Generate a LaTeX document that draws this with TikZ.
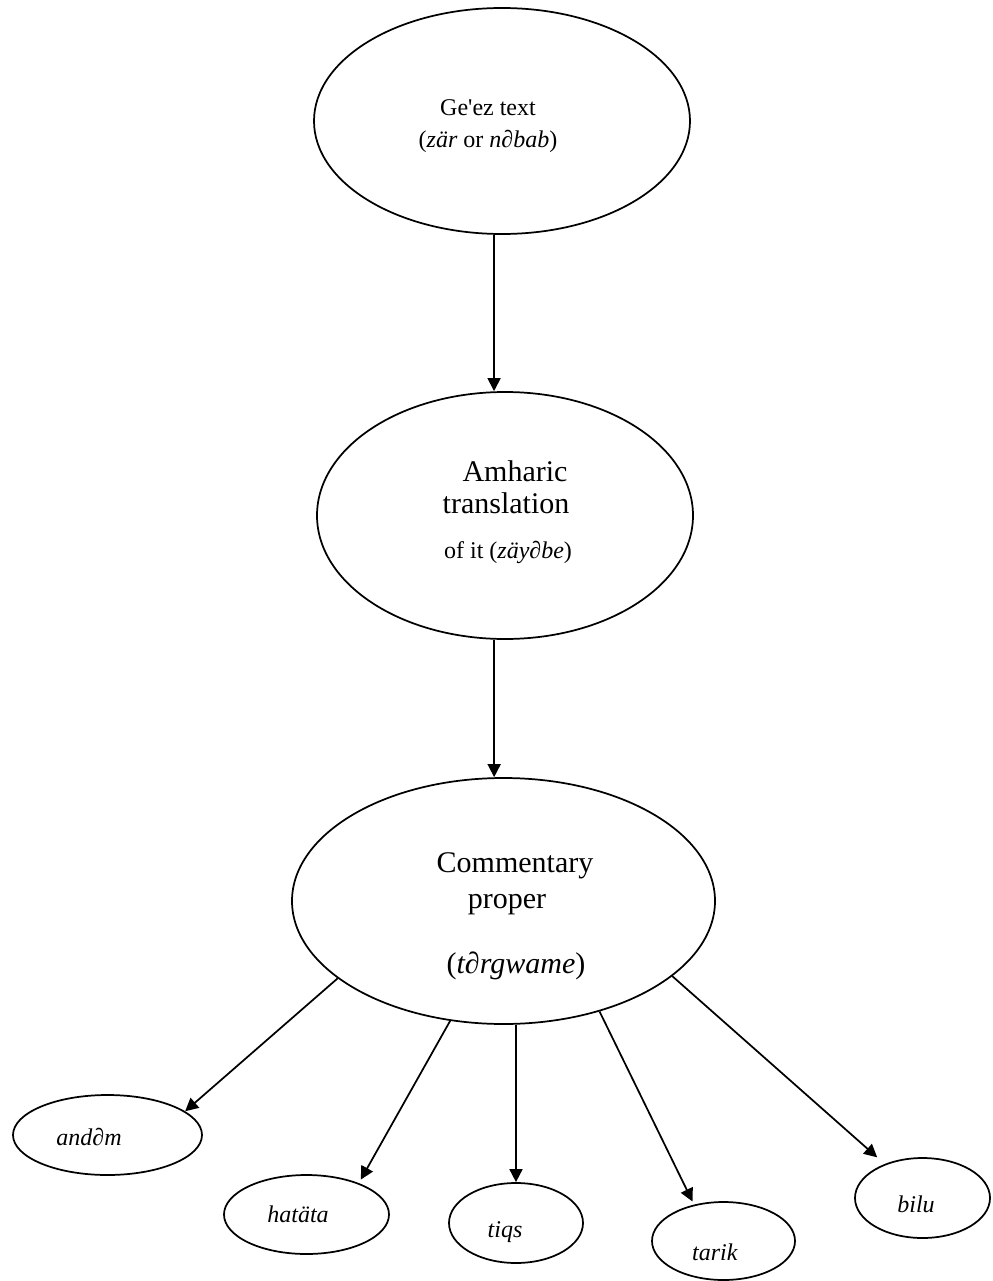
\documentclass[tikz,border=0pt]{standalone}
\usepackage{fontspec}
\setmainfont{Liberation Serif}[Ligatures=TeXOff]
\usetikzlibrary{shapes.geometric,arrows.meta}
\tikzset{
  oval/.style={draw=black, line width=1.3pt, ellipse, inner sep=0pt},
  lbl/.style={anchor=base, inner sep=0pt, font=\fontsize{18}{21}\selectfont},
  biglbl/.style={anchor=base, inner sep=0pt, font=\fontsize{22.5}{26}\selectfont},
  conn/.style={line width=1.3pt, -{Triangle[length=9.75pt,width=9.75pt]}}
}
\begin{document}
\begin{tikzpicture}[x=0.75pt,y=-0.75pt]
\useasboundingbox (0,0) rectangle (992,1281);
% main ellipses
\node[oval, minimum width=282pt, minimum height=169.5pt] (T) at (502,121) {};
\node[oval, minimum width=282pt, minimum height=185.25pt] (M) at (505,515.5) {};
\node[oval, minimum width=317.25pt, minimum height=184.5pt] (C) at (503.5,901) {};
% small ellipses
\node[oval, minimum width=141.75pt, minimum height=60pt] (andem) at (107.5,1135) {};
\node[oval, minimum width=123.75pt, minimum height=59.25pt] (hatata) at (306.5,1214.5) {};
\node[oval, minimum width=100.5pt, minimum height=60pt] (tiqs) at (516,1223) {};
\node[oval, minimum width=107.25pt, minimum height=58.5pt] (tarik) at (723.5,1241) {};
\node[oval, minimum width=101.25pt, minimum height=60pt] (bilu) at (922.5,1198) {};
% texts
\node[lbl] (t1) at (488,115) {Ge'ez text};
\node[lbl] (t2) at (488,147) {(\textit{zär} or \textit{n∂bab})};
\node[biglbl] (m1) at (515,481) {Amharic};
\node[biglbl] (m2) at (506,513) {translation};
\node[lbl] (m3) at (508,558) {of it (\textit{zäy∂be})};
\node[biglbl] (c1) at (515,872) {Commentary};
\node[biglbl] (c2) at (507,908) {proper};
\node[biglbl] (c3) at (516,973) {(\textit{t∂rgwame})};
\node[lbl] (a1) at (89,1145) {\textit{and∂m}};
\node[lbl] (h1) at (298,1222) {\textit{hatäta}};
\node[lbl] (q1) at (505,1237) {\textit{tiqs}};
\node[lbl] (r1) at (715,1260) {\textit{tarik}};
\node[lbl] (b1) at (916,1212) {\textit{bilu}};
% connectors
\draw[conn] (T.266) -- (T.266 |- M.north);
\draw[conn] (M.265) -- (M.265 |- C.north);
\draw[conn] (C.205) -- (andem.17);
\draw[conn, shorten >=3pt] (C.246) -- (hatata.31);
\draw[conn] (C.south -| tiqs.north) -- (tiqs.north);
\draw[conn, shorten >=2.6pt] (C.311) -- (tarik.129);
\draw[conn, shorten >=7.5pt] (C.336) -- (bilu.138);
\end{tikzpicture}
\end{document}
